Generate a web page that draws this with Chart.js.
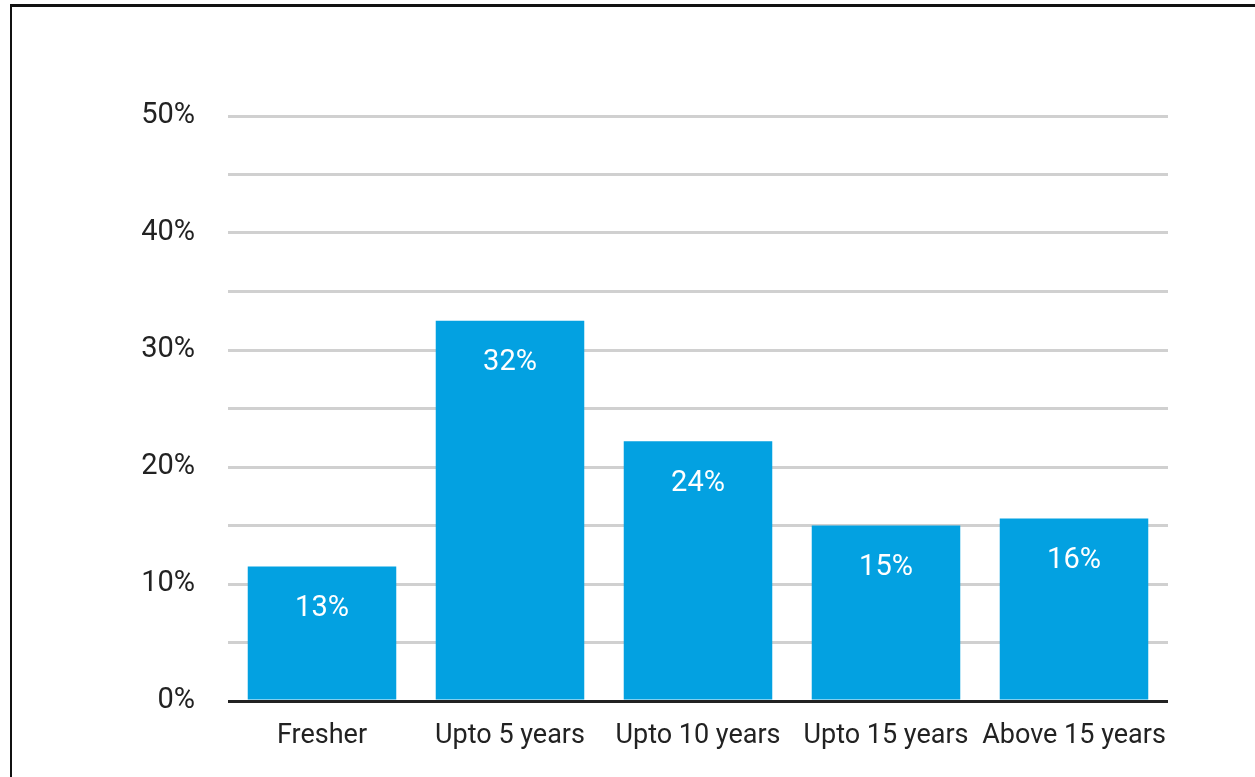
<!DOCTYPE html>
<html>
<head>
<meta charset="utf-8">
<script src="https://cdn.jsdelivr.net/npm/chart.js@4/dist/chart.umd.min.js"></script>
<style>
  html, body { margin: 0; padding: 0; background: #fff; }
  #wrap { position: relative; width: 1255px; height: 777px; overflow: hidden; }
  #frame { position: absolute; left: 10px; top: 4px; width: 1300px; height: 900px;
           border-left: 2px solid #111; border-top: 3px solid #111; }
  canvas { position: absolute; left: 0; top: 0; }
</style>
</head>
<body>
<div id="wrap">
  <div id="frame"></div>
  <canvas id="expChart" width="1255" height="777"></canvas>
</div>
<script>
// categories and bar heights
const categories = ['Fresher', 'Upto 5 years', 'Upto 10 years', 'Upto 15 years', 'Above 15 years'];
const barHeights = [11.5, 32.5, 22.2, 15.0, 15.6];
// printed labels inside the bars (they do not match bar heights exactly)
const barLabels = ['13%', '32%', '24%', '15%', '16%'];
const yTickLabels = ['0%', '10%', '20%', '30%', '40%', '50%'];

const FONT = 'Roboto, "Noto Sans", sans-serif';

// draws the white value text near the top of each bar
const barLabelPlugin = {
  id: 'barLabels',
  afterDatasetsDraw(chart) {
    const ctx = chart.ctx;
    const meta = chart.getDatasetMeta(0);
    ctx.save();
    ctx.fillStyle = '#ffffff';
    ctx.font = '29px ' + FONT;
    ctx.textAlign = 'center';
    ctx.textBaseline = 'middle';
    meta.data.forEach((bar, i) => {
      ctx.fillText(barLabels[i], bar.x, bar.y + 42);
    });
    ctx.restore();
  }
};

new Chart(document.getElementById('expChart'), {
  type: 'bar',
  data: {
    labels: categories,
    datasets: [{
      data: barHeights,
      backgroundColor: '#03a1e1',
      borderWidth: 0,
      barPercentage: 0.79,
      categoryPercentage: 1
    }]
  },
  options: {
    responsive: false,
    animation: false,
    layout: { padding: { top: 116, right: 87, bottom: 0, left: 0 } },
    plugins: { legend: { display: false }, tooltip: { enabled: false } },
    scales: {
      x: {
        grid: { display: false },
        border: { display: false },
        ticks: { color: '#222', font: { family: FONT, size: 27 }, padding: 11, maxRotation: 0 },
        afterFit: (s) => { s.height = 76; }
      },
      y: {
        min: 0,
        max: 50,
        border: { display: false },
        grid: {
          drawTicks: false,
          lineWidth: 3,
          color: (c) => (c.tick && c.tick.value === 0) ? '#222222' : '#d0d0d0'
        },
        ticks: {
          stepSize: 5,
          padding: 33,
          color: '#222',
          font: { family: FONT, size: 29 },
          callback: (v) => (v % 10 === 0 ? yTickLabels[v / 10] : '')
        },
        afterFit: (s) => { s.width = 228; }
      }
    }
  },
  plugins: [barLabelPlugin]
});
</script>
</body>
</html>
